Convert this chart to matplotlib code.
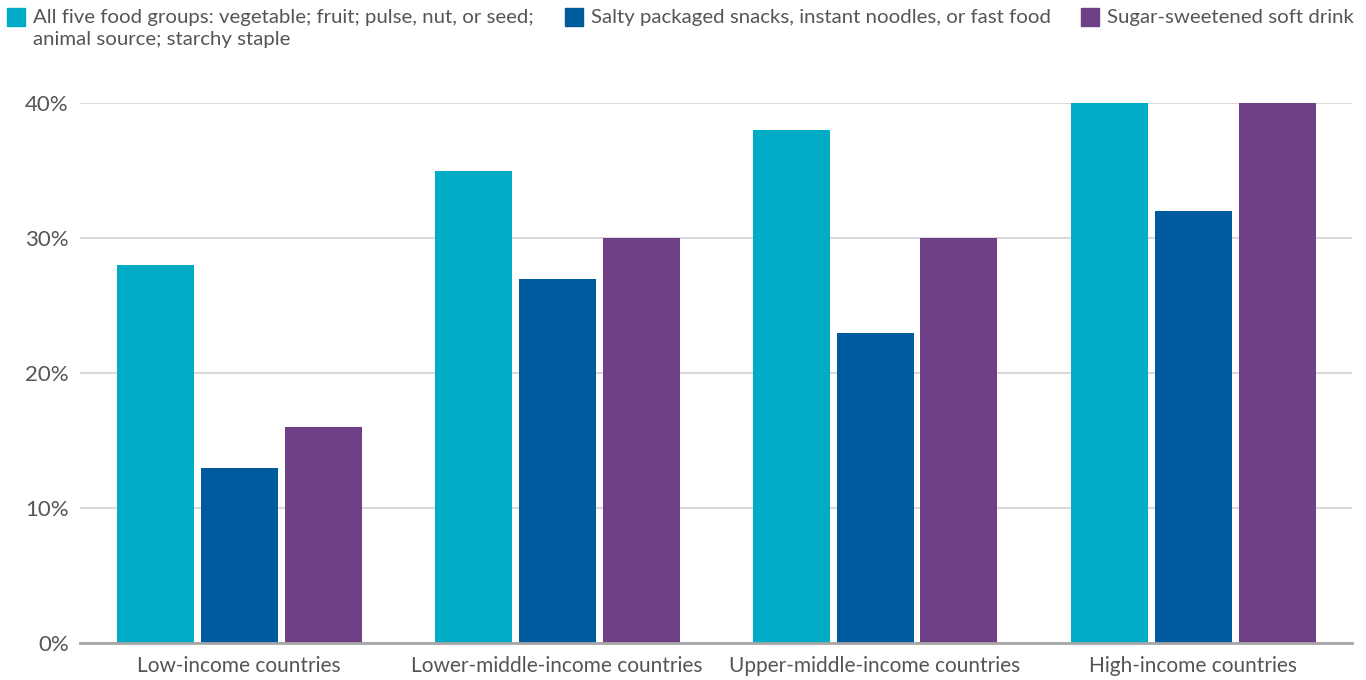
import numpy as np
import matplotlib.pyplot as plt
from matplotlib.patches import Rectangle

plt.rcParams['font.family'] = ['Lato', 'DejaVu Sans']

# Data
categories = ["Low-income countries", "Lower-middle-income countries",
              "Upper-middle-income countries", "High-income countries"]
series_names = ["All five food groups: vegetable; fruit; pulse, nut, or seed;\nanimal source; starchy staple",
                "Salty packaged snacks, instant noodles, or fast food",
                "Sugar-sweetened soft drink"]
all_five = [28, 35, 38, 40]
salty_snacks = [13, 27, 23, 32]
soft_drink = [16, 30, 30, 40]
y_ticks = [0, 10, 20, 30, 40]

colors = ["#00ABC6", "#005A9E", "#6F4086"]
text_color = "#555555"

W, H = 1366, 680
fig = plt.figure(figsize=(W / 100, H / 100), dpi=100)
ax = fig.add_axes([80 / W, (H - 643) / H, (1352 - 80) / W, (643 - 103) / H])

x = np.arange(len(categories))
bar_w = 77 / 318
step = 84 / 318
for i, vals in enumerate([all_five, salty_snacks, soft_drink]):
    ax.bar(x + (i - 1) * step, vals, width=bar_w, color=colors[i], zorder=3)

ax.set_xlim(-0.5, len(categories) - 0.5)
ax.set_ylim(0, 40)
ax.set_yticks(y_ticks)
ax.set_yticklabels([f"{v}%" for v in y_ticks])
ax.set_xticks(x)
ax.set_xticklabels(categories)
ax.yaxis.grid(True, color="#d9d9d9", linewidth=1.5, zorder=0)
ax.tick_params(axis="both", length=0, colors=text_color)
ax.tick_params(axis="y", labelsize=16, pad=8)
ax.tick_params(axis="x", labelsize=15, pad=9)
for side in ["top", "right", "left"]:
    ax.spines[side].set_visible(False)
ax.spines["bottom"].set_color("#a6a6a6")
ax.spines["bottom"].set_linewidth(2)
ax.spines["bottom"].set_zorder(4)
ax.set_axisbelow(True)

# Legend drawn by hand above the plot
legend_x = [7, 565, 1081]
for i, name in enumerate(series_names):
    fig.patches.append(Rectangle((legend_x[i] / W, (H - 26) / H), 18 / W, 18 / H,
                                 transform=fig.transFigure, color=colors[i]))
    fig.text((legend_x[i] + 26) / W, (H - 18) / H, name.split("\n")[0], ha="left",
             va="center", fontsize=14.7, color=text_color)
    if "\n" in name:
        fig.text((legend_x[i] + 26) / W, (H - 39) / H, name.split("\n")[1], ha="left",
                 va="center", fontsize=14.7, color=text_color)

fig.savefig("out.png", dpi=100)
